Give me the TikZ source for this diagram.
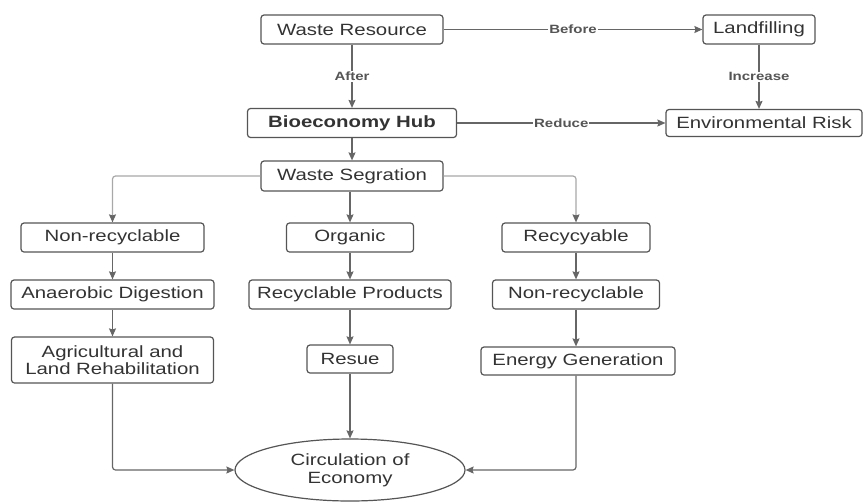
\documentclass[tikz,border=0pt]{standalone}
\usepackage{fontspec}
\setmainfont[FakeStretch=1.25]{Liberation Sans}
\usetikzlibrary{arrows.meta,shapes.geometric}
\definecolor{boxline}{HTML}{555555}
\definecolor{edgeline}{HTML}{666666}
\definecolor{branchline}{HTML}{A8A8A8}
\definecolor{txt}{HTML}{333333}
\begin{document}
\begin{tikzpicture}[x=1pt,y=-1pt,
  box/.style={draw=boxline,line width=1.2pt,rounded corners=3pt,fill=white,
    inner sep=0pt,align=center,text=txt,font=\fontsize{16.3}{17.5}\selectfont,
    minimum height=29pt},
  oval/.style={ellipse,draw=boxline,line width=1.2pt,fill=white,inner sep=0pt,
    align=center,text=txt,font=\fontsize{16.3}{18}\selectfont},
  conn/.style={draw=edgeline,line width=1.2pt,
    -{Stealth[length=8pt,width=7pt,inset=1pt]}},
  branch/.style={draw=branchline,line width=1.2pt,rounded corners=3pt,
    -{Stealth[length=8pt,width=7pt,inset=1pt,color=edgeline]}},
  elabel/.style={fill=white,inner sep=1pt,text=boxline,
    font=\bfseries\fontsize{12}{12}\selectfont}]
\useasboundingbox (0,0) rectangle (867,501);
% nodes
\node[box,minimum width=182pt] (wr) at (352,29.5) {Waste Resource};
\node[box,minimum width=112pt] (lf) at (759,29.5) {Landfilling};
\node[box,minimum width=209pt,font=\bfseries\fontsize{16.3}{17.5}\selectfont] (bio) at (352,123) {Bioeconomy Hub};
\node[box,minimum width=196pt,minimum height=27pt] (env) at (764,123) {Environmental Risk};
\node[box,minimum width=182pt,minimum height=30pt] (seg) at (352,176) {Waste Segration};
\node[box,minimum width=183pt] (nr1) at (112.5,237.5) {Non-recyclable};
\node[box,minimum width=127pt] (org) at (350,237.5) {Organic};
\node[box,minimum width=148pt] (rec) at (576,237.5) {Recycyable};
\node[box,minimum width=203pt] (ad) at (112.5,294.5) {Anaerobic Digestion};
\node[box,minimum width=202pt] (rp) at (350,294.5) {Recyclable Products};
\node[box,minimum width=167pt] (nr2) at (576,294.5) {Non-recyclable};
\node[box,minimum width=202pt,minimum height=46pt] (ag) at (112.5,360) {Agricultural and\\Land Rehabilitation};
\node[box,minimum width=86pt,minimum height=28pt] (res) at (350,359) {Resue};
\node[box,minimum width=194pt,minimum height=28pt] (eg) at (578,361) {Energy Generation};
\node[oval,minimum width=230pt,minimum height=62pt] (circ) at (350,470) {Circulation of\\Economy};
% connectors
\draw[conn] (wr.east) -- node[elabel]{Before} (lf.west);
\draw[conn] (wr.south) -- node[elabel]{After} (bio.north);
\draw[conn] (lf.south) -- node[elabel]{Increase} (lf.south |- env.north);
\draw[conn] (bio.east) -- node[elabel]{Reduce} (env.west);
\draw[conn] (bio.south) -- (seg.north);
\draw[branch] (seg.west) -| (nr1.north);
\draw[conn] (seg.south -| org.north) -- (org.north);
\draw[branch] (seg.east) -| (rec.north);
\draw[conn] (nr1.south) -- (ad.north);
\draw[conn] (ad.south) -- (ag.north);
\draw[conn] (org.south) -- (rp.north);
\draw[conn] (rp.south) -- (res.north);
\draw[conn] (rec.south) -- (nr2.north);
\draw[conn] (nr2.south) -- (nr2.south |- eg.north);
\draw[conn,rounded corners=3pt] (ag.south) |- (circ.west);
\draw[conn] (res.south) -- (circ.north);
\draw[conn,rounded corners=3pt] (nr2.south |- eg.south) |- (circ.east);
\end{tikzpicture}
\end{document}
